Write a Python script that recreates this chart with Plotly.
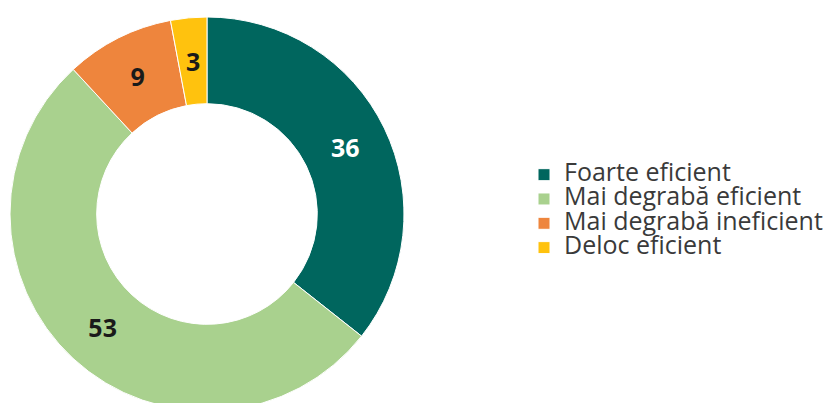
import math
import plotly.graph_objects as go

labels = ["Foarte eficient", "Mai degrabă eficient", "Mai degrabă ineficient", "Deloc eficient"]
values = [36, 53, 9, 3]
colors = ["#00665E", "#A9D18E", "#EE853D", "#FFC20E"]
text_colors = ["#FFFFFF", "#1A1A1A", "#1A1A1A", "#1A1A1A"]

W, H = 835, 403
top = 9
R = (H - top) / 2
cx = 199
cy = top + R
hole = 0.56
num_font = dict(family="Open Sans", size=25, weight="bold")

total = sum(values)
small = [v / total < 0.05 for v in values]
slice_text = ["" if s else str(v) for v, s in zip(values, small)]

legend_labels = [f"<span style='font-size:25px'>{l}</span>" for l in labels]

fig = go.Figure(go.Pie(
    labels=legend_labels,
    values=values,
    text=slice_text,
    textinfo="text",
    hole=hole,
    sort=False,
    direction="clockwise",
    rotation=0,
    marker=dict(colors=colors, line=dict(color="#FFFFFF", width=1)),
    textposition="inside",
    insidetextorientation="horizontal",
    textfont=dict(color=text_colors, **num_font),
    domain=dict(x=[(cx - R) / W, (cx + R) / W], y=[0, 1]),
    showlegend=True,
    hoverinfo="value+percent",
))

# labels of thin slices: placed at the mid-radius of the slice, like the other labels
cum = 0
rm = R * (1 + hole) / 2
for v, s, c in zip(values, small, text_colors):
    mid = (cum + v / 2) / total * 2 * math.pi
    cum += v
    if not s:
        continue
    px = cx + rm * math.sin(mid)
    py = cy - rm * math.cos(mid)
    fig.add_annotation(
        x=px / W, y=(H - py) / (H - top), xref="paper", yref="paper",
        text=str(v), showarrow=False, xanchor="center", yanchor="middle",
        font=dict(color=c, **num_font),
    )

fig.update_layout(
    width=W, height=H, autosize=False,
    margin=dict(l=0, r=0, t=top, b=0),
    paper_bgcolor="#FFFFFF",
    plot_bgcolor="#FFFFFF",
    legend=dict(
        x=516 / W, xanchor="left",
        y=(H - 149.5) / (H - top), yanchor="top",
        font=dict(family="Open Sans", size=16.4, color="#3A3A3A"),
        itemwidth=30,
        tracegroupgap=0,
        bgcolor="rgba(0,0,0,0)",
    ),
)

fig.write_html("out.html")
